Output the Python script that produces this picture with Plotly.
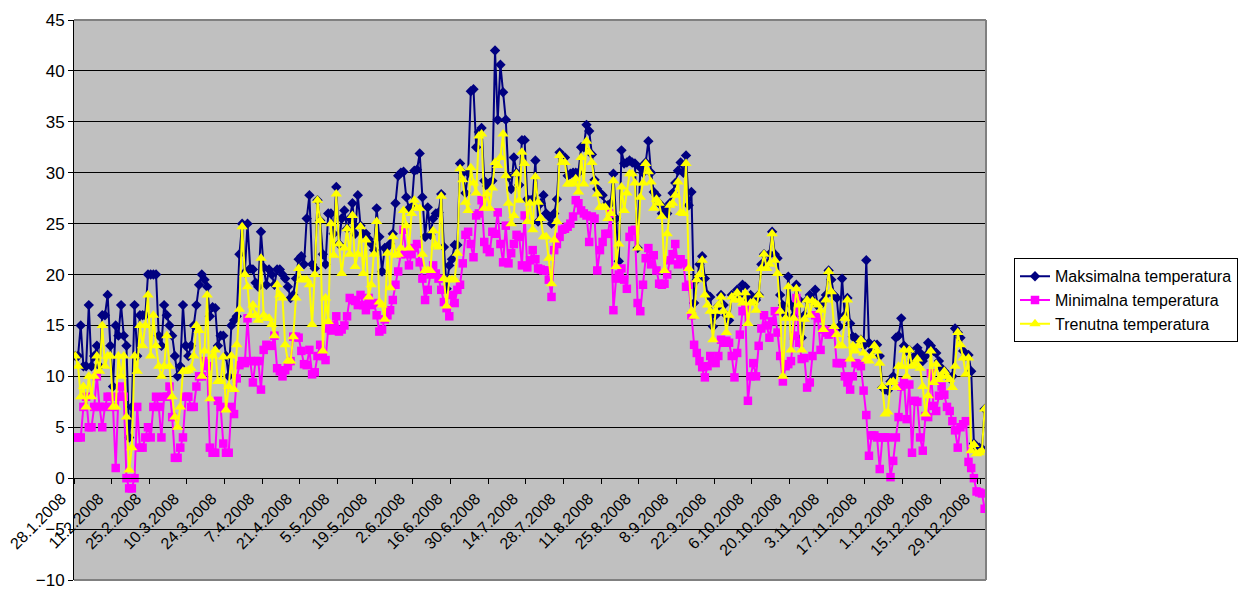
import datetime
import plotly.graph_objects as go

START = datetime.date(2008, 1, 28)

# Maksimalna temperatura (one value per day, 28.1.2008 - 31.12.2008)
maks = [
    12, 12, 15, 11, 11, 17, 11, 12, 13, 11,
    16, 16, 18, 13, 9, 15, 14, 17, 14, 13,
    4, 7, 17, 12, 16, 16, 16, 20, 20, 20,
    20, 14, 13, 17, 16, 15, 14, 12, 10, 11,
    17, 13, 12, 13, 15, 17, 19, 20, 19.5, 18.8,
    15.9, 16.8, 16.7, 13, 14, 14, 12, 10, 15, 15.5,
    15.9, 22, 25, 20.2, 25, 20.6, 20.5, 19.2, 18.8, 24.2,
    20.7, 19, 20.5, 20, 19, 20.5, 20.5, 20, 19.6, 18.8,
    17.7, 18, 19.6, 21.5, 21.8, 21, 25.5, 27.8, 21, 20.6,
    27.3, 25.3, 22, 21, 26, 26, 24, 28.6, 23, 25.5,
    26.3, 24.5, 25.5, 27, 24, 27.8, 24.8, 24, 24, 23.5,
    23, 22.4, 26.5, 23.7, 20.3, 22.6, 22.7, 23, 24, 27,
    29.7, 30, 30.1, 27.6, 26.5, 26.6, 30.2, 30.3, 31.9, 27.6,
    23.7, 26.6, 23.9, 25.5, 26, 26.1, 27.9, 22.7, 18.6, 20.9,
    21.5, 22.9, 22.9, 30.9, 30, 28, 30, 38, 38.2, 32.5,
    34, 34.4, 29.2, 28.7, 29, 29.2, 42, 35.2, 40.6, 37.9,
    35.2, 29.6, 28.4, 31.5, 30, 28.8, 33.2, 33.2, 27.4, 27.3,
    27.4, 31.2, 25.2, 27, 27.8, 26, 25.7, 25, 26, 27.4,
    32, 31.5, 31.5, 29.7, 29.9, 30, 30, 30, 32.5, 32.5,
    34.7, 34.1, 31.8, 29.3, 28.4, 28, 27.8, 26.8, 26.8, 27,
    29.9, 25.5, 21.3, 32.2, 30.9, 31, 31.2, 31, 30.9, 22.6,
    30.5, 30, 31, 33.1, 30, 28.1, 27.8, 27, 26, 26.5,
    26, 27, 28, 29, 30.2, 31, 30, 31.7, 26.8, 28.1,
    17.2, 19.5, 21, 21.8, 19.6, 18, 17.8, 14.9, 16, 16.9,
    18, 17, 16, 15.5, 18, 17.8, 18.5, 18, 19, 18.8,
    17.5, 18, 17.7, 17.5, 18, 21, 22, 21, 22, 24.2,
    22, 21.6, 18, 17, 16, 19.8, 17, 15.9, 19, 17.5,
    13.8, 16, 17.5, 18, 17.5, 18.5, 16.9, 17, 17.4, 18,
    20.4, 19.5, 18, 17.7, 14.9, 19.6, 16, 17.7, 15.2, 13.9,
    13.8, 13.5, 13.6, 13, 21.4, 13.3, 12.5, 13.1, 13.1, 12,
    8.9, 8.7, 8.6, 9.5, 10, 13.8, 14, 15.7, 13, 12.5,
    12.6, 11.5, 12, 12.8, 12.3, 11.5, 12, 13.3, 13, 12.5,
    12.3, 11.5, 10.8, 10.5, 10.2, 9.8, 10, 14.7, 14.3, 13.8,
    12.5, 12, 12.1, 10.5, 3.4, 3, 3, 2.9, 6.8,
]

# Minimalna temperatura
minim = [
    4, 4, 4, 7, 8, 5, 5, 7, 10, 7,
    5, 7, 8, 8, 7, 1, 8, 9, 8, 0,
    -1, -1, 0, 7, 3, 3, 4, 5, 4, 7,
    8, 7, 4, 8, 8, 9, 6, 2, 2, 3,
    4, 8, 8, 7, 7, 9, 10, 10, 11.5, 11,
    3, 2.5, 2.5, 7.6, 7, 3.4, 2.5, 2.5, 7, 6.3,
    9.8, 11.1, 11.5, 11.3, 15.7, 11.5, 9.4, 11.5, 11.5, 8.7,
    12.6, 13.1, 13, 13, 14, 10.8, 10.5, 10, 10.6, 11,
    11.5, 13.9, 13.9, 13.8, 12.5, 11.2, 11.1, 12.6, 10.2, 10.4,
    12, 13.1, 12, 11.6, 14.7, 14.5, 15, 15.9, 14.4, 14.6,
    15, 15.9, 17.7, 17.5, 17.4, 17, 18, 17, 16.5, 17.7,
    17, 17.2, 16, 14.4, 14.6, 15.6, 16, 16.5, 17.5, 19,
    20.3, 22, 24.4, 22, 20.9, 22, 22.6, 23, 21.2, 19.6,
    17.5, 18.5, 20, 20.9, 20.1, 19.6, 18.5, 17.3, 16.7, 15.9,
    18, 17.2, 18.5, 19, 21.1, 23.9, 24.2, 23, 21.7, 25.8,
    26, 27.3, 23.2, 22.5, 22.2, 24.2, 24, 26.1, 23, 21.2,
    24.8, 21.1, 22.1, 23, 23.9, 23.7, 20.9, 25.8, 20.7, 21.4,
    22.4, 21.5, 20.6, 20.5, 20.4, 20.4, 19.5, 17.8, 22.4, 23,
    23.7, 24.4, 24.5, 24.7, 25, 25.7, 27.3, 27, 26.3, 26,
    25.8, 23.2, 25.7, 25.5, 20.4, 22.4, 23.2, 24, 24, 26,
    16.5, 19.6, 20, 20.6, 19.5, 18.6, 23.7, 24.3, 24.4, 17.2,
    16.4, 19, 21.6, 22.6, 21, 21.9, 20.4, 19.1, 19, 19.1,
    20, 21.4, 22, 23, 21, 21.5, 21.1, 18.8, 19, 16,
    13.1, 12.3, 11.5, 10.9, 9.9, 11, 12, 11.5, 11.3, 12,
    13.6, 13.3, 13.5, 13.3, 12, 9.9, 12.3, 14.1, 16.4, 16.7,
    7.6, 10, 11.3, 10, 13, 14.7, 16, 15, 13.8, 15.4,
    16.4, 14.3, 12, 9.5, 11, 11.2, 11.5, 14, 17.7, 13.3,
    11.7, 11.8, 8.9, 9.4, 12, 16, 15.7, 12.6, 14.6, 14.3,
    14.1, 14.5, 14.5, 11.3, 11.3, 11.3, 10, 9.4, 8.7, 10,
    11.3, 11.2, 11, 8.6, 6.2, 2.2, 4.2, 4.2, 4, 0.9,
    4, 4, 4, 0.1, 1.7, 4, 6, 9, 9.5, 5.8,
    9.2, 2.5, 7.6, 7.5, 4, 2.7, 6.1, 6, 10.3, 7.1,
    6.6, 8.1, 9, 8.2, 7, 6.6, 5.6, 4.7, 3, 5,
    5.3, 5.6, 1.6, 1.0, 0, -1.3, -1.4, -1.5, -3,
]

# Trenutna temperatura
trenutna = [
    12, 11, 8, 9, 7, 10, 8, 10, 12, 10.5,
    15, 11, 12, 12, 7, 7, 12, 10, 12, 6,
    0.8, 3, 12, 10.5, 15, 13, 15, 18, 12, 16,
    13, 11, 10, 11, 14, 11, 8, 6, 5, 7,
    10.5, 10.5, 10.6, 10.8, 12, 15, 14.5, 10, 12.5, 18,
    7.8, 12, 12.6, 9.5, 9.5, 11.9, 6.7, 9, 12, 8.7,
    13.1, 16.6, 24.7, 20, 18.8, 16, 17, 16, 15.5, 21.6,
    16, 15.7, 15.7, 15.1, 14, 19, 18, 17.7, 13.1, 11.5,
    11.5, 13.9, 17.7, 20.6, 19.5, 19.5, 19.5, 19, 15.1, 20,
    27.3, 25.3, 12.5, 17.7, 15.4, 25, 21.9, 27.9, 23, 20.1,
    22.6, 24.5, 22, 25.8, 20.8, 22, 24.7, 20.1, 23.4, 17.8,
    19, 22, 25.2, 17.3, 17, 15.6, 22.1, 18.7, 23.7, 21.9,
    22, 22.6, 26.3, 24.8, 22.6, 26, 27.3, 26.5, 26.5, 22,
    20.4, 20.4, 20.4, 24.3, 22.9, 22.7, 27.7, 19.6, 16.9, 19.5,
    19.5, 19.5, 22.1, 30.4, 29.3, 27.1, 26.3, 30.5, 29, 28,
    33.6, 33.8, 26.5, 27.9, 26.5, 28.5, 31, 30.7, 31.5, 33.8,
    29.7, 27, 25, 25.8, 29.9, 27.3, 32, 30.9, 25.2, 27,
    24.4, 29.6, 27.1, 25.5, 23.7, 23.7, 21.6, 19.1, 23.4, 25.2,
    31.7, 31, 31, 28.9, 28.9, 29, 29.4, 28.1, 31.5, 28.9,
    33.1, 32, 31, 29.1, 27.9, 26.6, 26.6, 26.6, 25.5, 26,
    29.2, 20.8, 23, 28.6, 26.3, 28, 29.9, 29.9, 29, 22.6,
    27.6, 29, 30.9, 30.1, 29.1, 26.5, 27.4, 27, 25.7, 20.4,
    24, 26.8, 27, 27.8, 29.1, 26.1, 26, 30.9, 20.6, 16.4,
    15.9, 19.5, 20, 21.4, 18, 17, 16.4, 13.6, 16.4, 17,
    17.8, 16.4, 14.3, 16, 17.8, 17.5, 18.2, 17.5, 17.2, 18.2,
    15.2, 17.2, 17.3, 16.5, 18, 20.6, 22, 20.6, 21, 24,
    21.4, 20.1, 16.4, 10, 15.7, 18.8, 12.6, 15.7, 18.6, 17,
    12.6, 15.6, 17.5, 16, 17.4, 17.2, 17, 16.5, 14.6, 17.5,
    20.3, 18.3, 14.9, 14.1, 13, 13, 15.7, 17.5, 11.7, 13,
    12.5, 13, 13.6, 12.3, 11.7, 11.5, 12, 13, 12.5, 11.3,
    9, 6.3, 6.5, 9.4, 9.5, 8.9, 11, 11, 12.6, 10,
    12.6, 11, 11.2, 11.7, 10.8, 9, 6.3, 8.1, 12.5, 9.4,
    11.2, 9.7, 10, 10.5, 10, 9.7, 8.9, 11, 14.3, 13.1,
    11.8, 10.2, 11.8, 2.7, 3.3, 2.4, 2.5, 2.7, 6.8,
]

tick_labels = [
    "28.1.2008", "11.2.2008", "25.2.2008", "10.3.2008", "24.3.2008",
    "7.4.2008", "21.4.2008", "5.5.2008", "19.5.2008", "2.6.2008",
    "16.6.2008", "30.6.2008", "14.7.2008", "28.7.2008", "11.8.2008",
    "25.8.2008", "8.9.2008", "22.9.2008", "6.10.2008", "20.10.2008",
    "3.11.2008", "17.11.2008", "1.12.2008", "15.12.2008", "29.12.2008",
]

series_names = ["Maksimalna temperatura", "Minimalna temperatura", "Trenutna temperatura"]

n = len(maks)
dates = []
for i in range(n):
    d = START + datetime.timedelta(days=i)
    dates.append(f"{d.day}.{d.month}.{d.year}")

fig = go.Figure()
fig.add_trace(go.Scatter(
    x=dates, y=maks, name=series_names[0], mode="lines+markers",
    line=dict(color="#000080", width=2),
    marker=dict(symbol="diamond", size=8, color="#000080"),
))
fig.add_trace(go.Scatter(
    x=dates, y=minim, name=series_names[1], mode="lines+markers",
    line=dict(color="#FF00FF", width=2),
    marker=dict(symbol="square", size=8.5, color="#FF00FF"),
))
fig.add_trace(go.Scatter(
    x=dates, y=trenutna, name=series_names[2], mode="lines+markers",
    line=dict(color="#FFFF00", width=2),
    marker=dict(symbol="triangle-up", size=10, color="#FFFF00"),
))

FONT = "Liberation Sans, Arial, sans-serif"

# the page body has an 8px margin; the figure is offset to compensate
fig.update_layout(
    width=1243, height=582,
    margin=dict(l=66, r=265, t=12, b=10, autoexpand=False),
    paper_bgcolor="white", plot_bgcolor="#C0C0C0",
    font=dict(family=FONT, size=16, color="black"),
    showlegend=True,
    legend=dict(
        x=1.0307, y=0.5745, xanchor="left", yanchor="top",
        bgcolor="white", bordercolor="black", borderwidth=1,
        font=dict(family=FONT, size=16, color="black"),
        tracegroupgap=0,
    ),
    xaxis=dict(
        type="category", range=[-0.5, n - 0.5],
        tickmode="array", tickvals=tick_labels, ticktext=tick_labels,
        tickangle=-45, ticks="outside", ticklen=5, tickcolor="black",
        tickson="boundaries", showgrid=False, zeroline=False,
        showline=True, linecolor="black", linewidth=1,
        anchor="free", position=10 / 55, automargin=False,
        ticklabelshift=-14, ticklabelstandoff=4,
        ticklabeloverflow="allow",
        tickfont=dict(family=FONT, size=16, color="black"),
    ),
    yaxis=dict(
        range=[-10, 45], tick0=0, dtick=5,
        showgrid=True, gridcolor="black", gridwidth=1,
        ticks="outside", ticklen=5, tickcolor="black",
        showline=True, linecolor="black", linewidth=1,
        zeroline=False, automargin=False,
        ticklabeloverflow="allow",
        tickfont=dict(family=FONT, size=17, color="black"),
    ),
    shapes=[
        dict(type="line", xref="paper", yref="paper", x0=0, x1=1, y0=1, y1=1,
             line=dict(color="#808080", width=2), layer="above"),
        dict(type="line", xref="paper", yref="paper", x0=1, x1=1, y0=0, y1=1,
             line=dict(color="#808080", width=2), layer="above"),
        dict(type="line", xref="paper", yref="paper", x0=0, x1=1, y0=0, y1=0,
             line=dict(color="#808080", width=2), layer="above"),
    ],
)

fig.write_html("out.html")
